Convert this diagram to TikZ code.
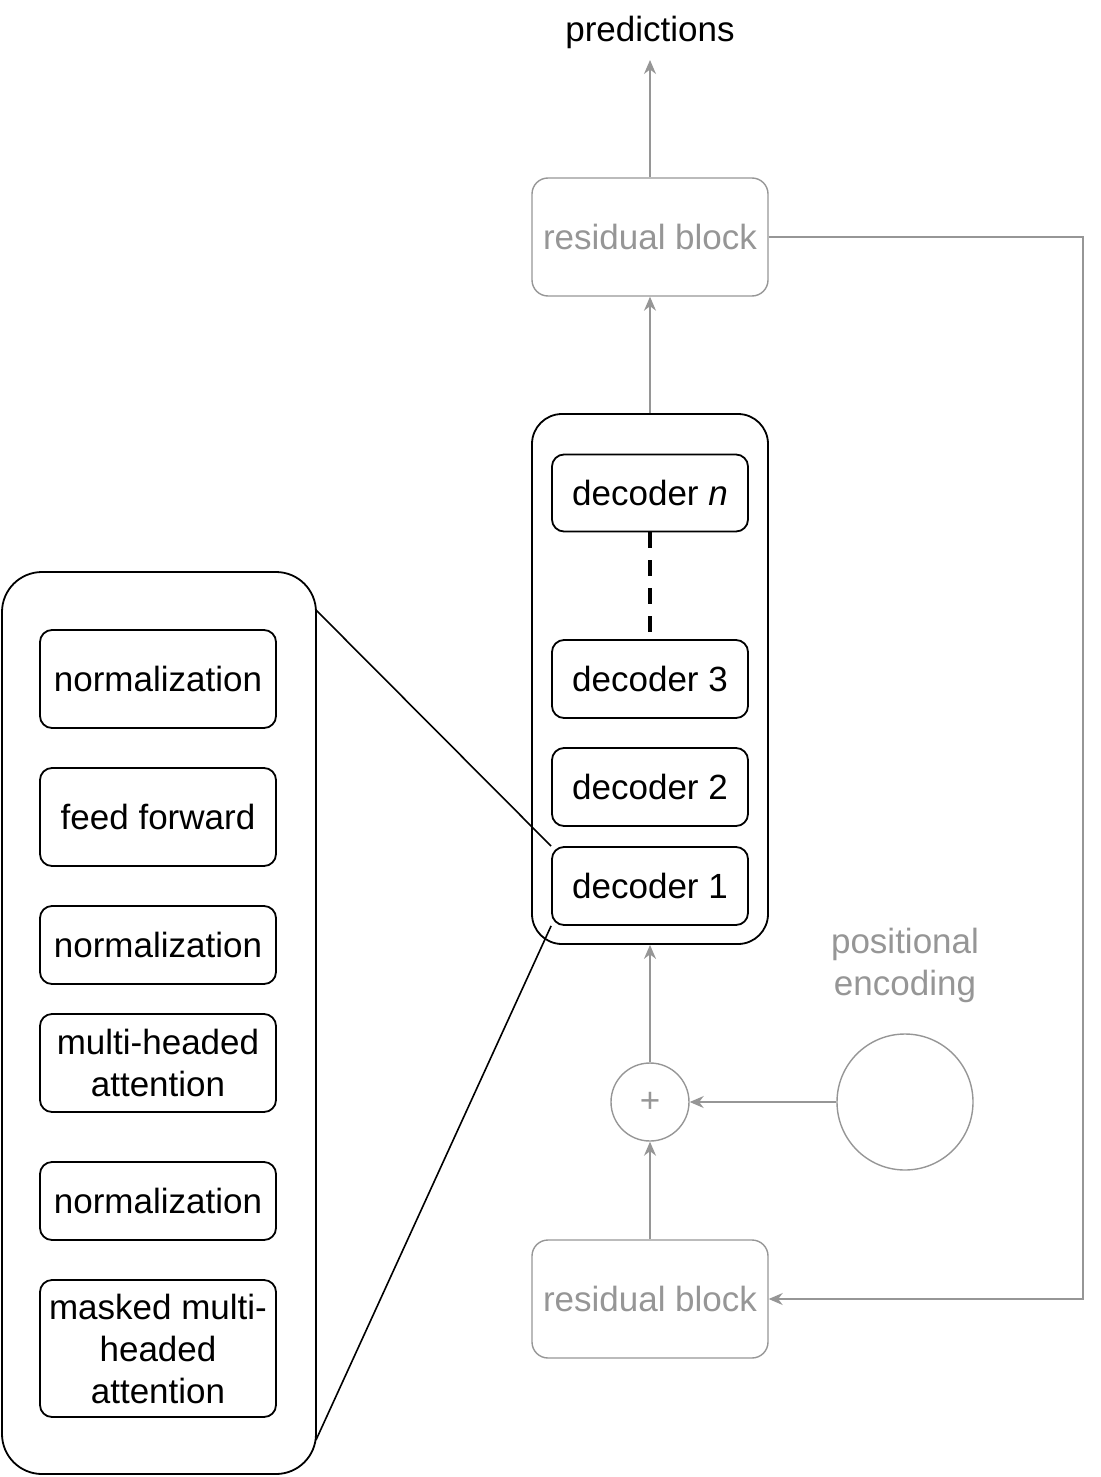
\documentclass[tikz,border=0pt]{standalone}
\usepackage{fontspec}
\setmainfont{Liberation Sans}
\usetikzlibrary{arrows.meta}
\definecolor{gr}{RGB}{150,150,150}
\begin{document}
\begin{tikzpicture}[x=0.5pt,y=-0.5pt,
  every node/.style={font=\fontsize{17.5}{21}\selectfont},
  bx/.style={draw,rounded corners=6pt,line width=0.9pt,align=center,inner sep=0pt},
  gbx/.style={draw=gr,text=gr,rounded corners=8pt,line width=0.7pt,inner sep=0pt},
  ga/.style={draw=gr,line width=0.7pt,-{Stealth[length=7pt,width=6pt]}}]
\useasboundingbox (0,0) rectangle (1100,1477);
\node (pred) at (650,32) {predictions};
\node[gbx,minimum width=118pt,minimum height=59pt] (rtop) at (650,237) {residual block};
\node[draw,rounded corners=15pt,line width=0.9pt,minimum width=118pt,minimum height=265pt] (cont) at (650,679) {};
\node[bx,minimum width=98pt,minimum height=38.5pt] (dn) at (650,493) {decoder \textit{n}};
\node[bx,minimum width=98pt,minimum height=39pt] (d3) at (650,679) {decoder 3};
\node[bx,minimum width=98pt,minimum height=39pt] (d2) at (650,787) {decoder 2};
\node[bx,minimum width=98pt,minimum height=39pt] (d1) at (650,886) {decoder 1};
\draw[dashed,line width=1.8pt,dash pattern=on 8pt off 6pt] (dn.south) -- (d3.north);
\node[draw,rounded corners=20pt,line width=0.9pt,minimum width=157pt,minimum height=451pt] (left) at (159,1023) {};
\node[bx,minimum width=118pt,minimum height=49pt] (n1) at (158,679) {normalization};
\node[bx,minimum width=118pt,minimum height=49pt] (ff) at (158,817) {feed forward};
\node[bx,minimum width=118pt,minimum height=39pt] (n2) at (158,945) {normalization};
\node[bx,minimum width=118pt,minimum height=49pt] (mh) at (158,1063) {multi-headed\\attention};
\node[bx,minimum width=118pt,minimum height=39pt] (n3) at (158,1201) {normalization};
\node[bx,minimum width=118pt,minimum height=68.5pt] (mm) at (158,1348.5) {masked multi-\\headed\\attention};
\coordinate (lt) at (316,610);
\coordinate (lb) at (316,1440);
\draw[line width=0.8pt] (lt) -- (d1.north west);
\draw[line width=0.8pt] (lb) -- (d1.south west);
\node[draw=gr,text=gr,circle,minimum size=39pt,inner sep=0pt,line width=0.7pt] (plus) at (650,1102) {+};
\node[draw=gr,circle,minimum size=68pt,inner sep=0pt,line width=0.7pt] (pe) at (905,1102) {};
\node[text=gr,align=center] (pet) at (905,965) {positional\\encoding};
\node[gbx,minimum width=118pt,minimum height=59pt] (rbot) at (650,1299) {residual block};
\draw[ga] (rtop.north) -- (650,60);
\draw[ga] (cont.north) -- (rtop.south);
\draw[ga] (plus.north) -- (cont.south);
\draw[ga] (pe.west) -- (plus.east);
\draw[ga] (rbot.north) -- (plus.south);
\draw[ga] (rtop.east) -- (1083,237) -- (1083,1299) -- (rbot.east);
\end{tikzpicture}
\end{document}
